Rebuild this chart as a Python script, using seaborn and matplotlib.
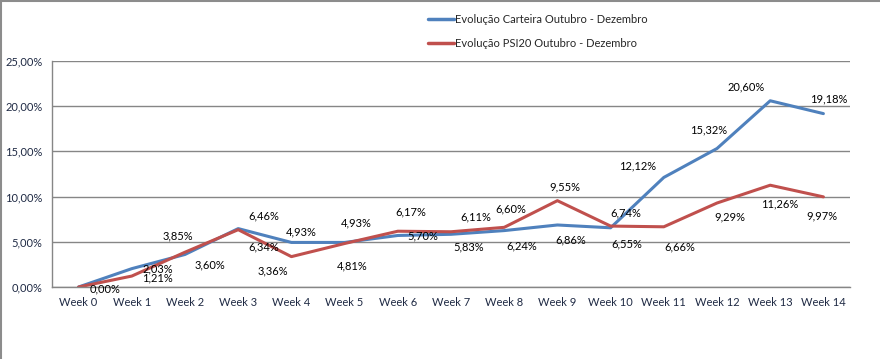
import pandas as pd
import seaborn as sns
from matplotlib import pyplot as plt
from matplotlib.lines import Line2D

weeks = ["Week 0", "Week 1", "Week 2", "Week 3", "Week 4", "Week 5", "Week 6", "Week 7",
         "Week 8", "Week 9", "Week 10", "Week 11", "Week 12", "Week 13", "Week 14"]
carteira = [0.00, 2.03, 3.60, 6.46, 4.93, 4.93, 5.70, 5.83, 6.24, 6.86, 6.55, 12.12, 15.32, 20.60, 19.18]
psi20 = [0.00, 1.21, 3.85, 6.34, 3.36, 4.81, 6.17, 6.11, 6.60, 9.55, 6.74, 6.66, 9.29, 11.26, 9.97]
series_names = ["Evolução Carteira Outubro - Dezembro", "Evolução PSI20 Outubro - Dezembro"]
y_ticks = [0, 5, 10, 15, 20, 25]

# hand placed label offsets (pixels, x right / y down) as in the original sheet
off_carteira = [(26, 2), (26, 0), (25, 10), (26, -13), (10, -11), (12, -20), (25, 0), (18, 13),
                (18, 15), (13, 15), (16, 16), (-26, -12), (-8, -19), (-24, -14), (5, -15)]
off_psi20 = [None, (26, 2), (-7, -16), (26, 17), (-19, 14), (8, 22), (13, -19), (25, -15),
             (7, -18), (7, -14), (15, -13), (16, 20), (13, 14), (9, 19), (-1, 19)]

colors = ["#4F81BD", "#C0504D"]
grey = "#868686"

df = pd.DataFrame({
    "week": weeks * 2,
    "value": carteira + psi20,
    "serie": [series_names[0]] * len(weeks) + [series_names[1]] * len(weeks),
})

sns.set_style("white")
plt.rcParams["font.family"] = ["Lato", "DejaVu Sans"]

fig = plt.figure(figsize=(8.8, 3.59), dpi=100)
ax = fig.add_axes([52 / 880, 1 - 287 / 359, 798 / 880, 226 / 359])

sns.lineplot(df, x="week", y="value", hue="serie", palette=colors, linewidth=2.2,
             sort=False, legend=False, ax=ax)

ax.set_xlim(-0.5, len(weeks) - 0.5)
ax.set_ylim(0, 25)
ax.set_yticks(y_ticks)
ax.set_yticklabels([f"{t:.2f}%".replace(".", ",") for t in y_ticks])
ax.set_xticks(range(len(weeks)))
ax.set_xticklabels(weeks)
ax.set_xticks([i - 0.5 for i in range(len(weeks) + 1)], minor=True)
ax.tick_params(axis="x", which="major", length=0, pad=7, labelsize=8, labelcolor="#1F2A44")
ax.tick_params(axis="x", which="minor", length=4, width=1, color=grey, direction="out")
ax.tick_params(axis="y", length=4, width=1, color=grey, direction="out", pad=3,
               labelsize=8, labelcolor="#1F2A44")
ax.set(xlabel="", ylabel="")
ax.yaxis.grid(True, color=grey, linewidth=1)
ax.xaxis.grid(False)
ax.spines[["top", "right"]].set_visible(False)
ax.spines[["left", "bottom"]].set_color(grey)
ax.spines[["left", "bottom"]].set_linewidth(1)

for vals, offs in [(carteira, off_carteira), (psi20, off_psi20)]:
    for i, (v, o) in enumerate(zip(vals, offs)):
        if o is None:
            continue
        ax.annotate(f"{v:.2f}%".replace(".", ","), (i, v), xytext=(o[0], -o[1]),
                    textcoords="offset pixels", ha="center", va="center",
                    fontsize=8, color="black")

handles = [Line2D([], [], color=c, linewidth=2.5) for c in colors]
fig.legend(handles, series_names, loc="upper left", bbox_to_anchor=(428 / 880, 1 - 14 / 359),
           frameon=False, fontsize=8, handlelength=2.3, handletextpad=0.1,
           labelspacing=1.15, borderpad=0, borderaxespad=0)

fig.add_artist(Line2D([0, 1], [1 - 1 / 359, 1 - 1 / 359], color="#8C8C8C", linewidth=1.5))
fig.add_artist(Line2D([1 / 880, 1 / 880], [0, 1], color="#8C8C8C", linewidth=1.5))

fig.savefig("out.png", dpi=100)
